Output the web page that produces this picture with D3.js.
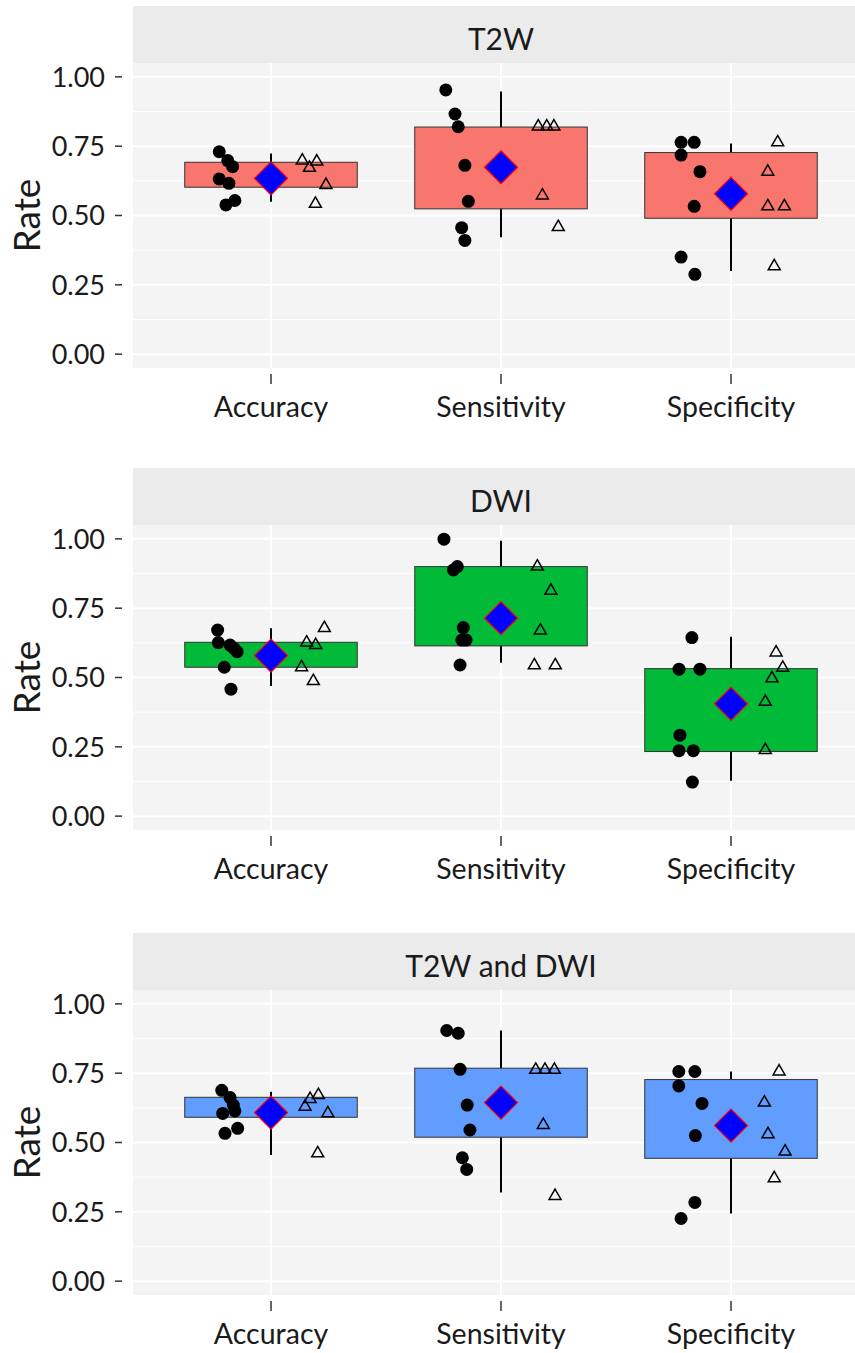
<!DOCTYPE html>
<html>
<head>
<meta charset="utf-8">
<script src="https://cdn.jsdelivr.net/npm/d3@7"></script>
<style>
  body { margin: 0; background: #fff; }
  text { font-family: Lato, "Noto Sans", sans-serif; fill: #1a1a1a; }
</style>
</head>
<body>
<div id="chart"></div>
<script>
  // categories and facets
  var panels = ["T2W", "DWI", "T2W and DWI"];
  var metrics = ["Accuracy", "Sensitivity", "Specificity"];
  var fills = ["#F8766D", "#00BA38", "#619CFF"];
  var yTicks = [0, 0.25, 0.5, 0.75, 1];
  var yMinor = [0.125, 0.375, 0.625, 0.875];

  // box / whisker / mean per panel (Accuracy, Sensitivity, Specificity)
  var boxLow = [[0.602, 0.524, 0.490], [0.537, 0.614, 0.233], [0.591, 0.519, 0.443]];
  var boxHigh = [[0.692, 0.819, 0.727], [0.627, 0.900, 0.532], [0.663, 0.768, 0.727]];
  var whiskLow = [[0.550, 0.422, 0.300], [0.469, 0.553, 0.128], [0.455, 0.320, 0.244]];
  var whiskHigh = [[0.724, 0.947, 0.760], [0.678, 0.993, 0.647], [0.683, 0.904, 0.756]];
  var means = [[0.634, 0.674, 0.578], [0.579, 0.714, 0.405], [0.608, 0.644, 0.561]];

  // filled circles: values and horizontal jitter (category units)
  var circleVals = [
    [[0.730, 0.698, 0.676, 0.632, 0.616, 0.554, 0.538],
     [0.953, 0.866, 0.820, 0.681, 0.551, 0.456, 0.410],
     [0.764, 0.764, 0.718, 0.658, 0.533, 0.350, 0.288]],
    [[0.671, 0.626, 0.617, 0.605, 0.593, 0.537, 0.458],
     [0.999, 0.888, 0.900, 0.680, 0.635, 0.635, 0.545],
     [0.644, 0.530, 0.530, 0.292, 0.236, 0.236, 0.123]],
    [[0.688, 0.662, 0.635, 0.614, 0.605, 0.551, 0.533],
     [0.904, 0.894, 0.764, 0.635, 0.545, 0.445, 0.403],
     [0.756, 0.756, 0.704, 0.641, 0.525, 0.284, 0.226]]
  ];
  var circleJit = [
    [[-0.225, -0.188, -0.167, -0.225, -0.183, -0.157, -0.196],
     [-0.240, -0.200, -0.186, -0.157, -0.142, -0.171, -0.157],
     [-0.217, -0.160, -0.217, -0.135, -0.160, -0.217, -0.157]],
    [[-0.232, -0.229, -0.178, -0.161, -0.147, -0.203, -0.174],
     [-0.248, -0.207, -0.190, -0.164, -0.170, -0.152, -0.178],
     [-0.170, -0.226, -0.135, -0.222, -0.226, -0.164, -0.168]],
    [[-0.214, -0.178, -0.164, -0.157, -0.210, -0.145, -0.200],
     [-0.236, -0.186, -0.178, -0.147, -0.135, -0.168, -0.149],
     [-0.227, -0.157, -0.227, -0.126, -0.155, -0.157, -0.217]]
  ];

  // open triangles: values and jitter
  var triVals = [
    [[0.698, 0.672, 0.695, 0.610, 0.542],
     [0.821, 0.821, 0.821, 0.572, 0.458],
     [0.764, 0.658, 0.533, 0.533, 0.317]],
    [[0.678, 0.626, 0.617, 0.537, 0.487],
     [0.900, 0.813, 0.669, 0.544, 0.544],
     [0.590, 0.535, 0.497, 0.412, 0.238]],
    [[0.671, 0.657, 0.629, 0.605, 0.461],
     [0.762, 0.762, 0.762, 0.563, 0.307],
     [0.756, 0.644, 0.530, 0.467, 0.371]]
  ];
  var triJit = [
    [[0.136, 0.167, 0.199, 0.239, 0.193],
     [0.162, 0.199, 0.230, 0.180, 0.249],
     [0.203, 0.160, 0.160, 0.232, 0.188]],
    [[0.232, 0.155, 0.194, 0.133, 0.184],
     [0.158, 0.217, 0.171, 0.145, 0.236],
     [0.196, 0.225, 0.178, 0.149, 0.149]],
    [[0.206, 0.170, 0.148, 0.247, 0.203],
     [0.151, 0.191, 0.232, 0.184, 0.235],
     [0.209, 0.145, 0.161, 0.235, 0.188]]
  ];

  var width = 855, height = 1353;
  var panelLeft = 133;
  var stripTops = [6, 468, 933];
  var stripH = 57;
  var panelH = 305;

  var svg = d3.select("#chart").append("svg")
    .attr("width", width)
    .attr("height", height);

  // x: discrete positions 1..3 with 0.6 expansion each side
  var x = d3.scaleLinear().domain([0.4, 3.6]).range([panelLeft, panelLeft + 736]);

  panels.forEach(function (name, p) {
    var top = stripTops[p] + stripH;
    var y = d3.scaleLinear().domain([-0.05, 1.05]).range([top + panelH, top]);
    var g = svg.append("g");

    // strip
    g.append("rect")
      .attr("x", panelLeft).attr("y", stripTops[p])
      .attr("width", width - panelLeft).attr("height", stripH)
      .attr("fill", "#EBEBEB");
    g.append("text")
      .attr("x", x(2)).attr("y", stripTops[p] + 44)
      .attr("text-anchor", "middle")
      .style("font-size", "30px")
      .text(name);

    // panel background
    g.append("rect")
      .attr("x", panelLeft).attr("y", top)
      .attr("width", width - panelLeft).attr("height", panelH)
      .attr("fill", "#F4F4F4");

    g.selectAll(".minor").data(yMinor).enter().append("line")
      .attr("x1", panelLeft).attr("x2", width)
      .attr("y1", d => y(d)).attr("y2", d => y(d))
      .attr("stroke", "#fff").attr("stroke-width", 1);
    g.selectAll(".major").data(yTicks).enter().append("line")
      .attr("x1", panelLeft).attr("x2", width)
      .attr("y1", d => y(d)).attr("y2", d => y(d))
      .attr("stroke", "#fff").attr("stroke-width", 2);
    g.selectAll(".vmajor").data(metrics).enter().append("line")
      .attr("x1", (d, i) => x(i + 1)).attr("x2", (d, i) => x(i + 1))
      .attr("y1", top).attr("y2", top + panelH)
      .attr("stroke", "#fff").attr("stroke-width", 2);

    // y axis ticks + labels
    g.selectAll(".ytick").data(yTicks).enter().append("line")
      .attr("x1", 115).attr("x2", 122)
      .attr("y1", d => y(d)).attr("y2", d => y(d))
      .attr("stroke", "#333").attr("stroke-width", 1.5);
    g.selectAll(".ylab").data(yTicks).enter().append("text")
      .attr("x", 105).attr("y", d => y(d))
      .attr("dy", "0.36em")
      .attr("text-anchor", "end")
      .style("font-size", "27px")
      .text(d => d3.format(".2f")(d));

    // x axis ticks + labels
    g.selectAll(".xtick").data(metrics).enter().append("line")
      .attr("x1", (d, i) => x(i + 1)).attr("x2", (d, i) => x(i + 1))
      .attr("y1", top + panelH + 6).attr("y2", top + panelH + 16)
      .attr("stroke", "#333").attr("stroke-width", 1.5);
    g.selectAll(".xlab").data(metrics).enter().append("text")
      .attr("x", (d, i) => x(i + 1)).attr("y", top + panelH + 49)
      .attr("text-anchor", "middle")
      .style("font-size", "28.5px")
      .text(d => d);

    // y title
    g.append("text")
      .attr("transform", "translate(40," + (top + panelH / 2) + ") rotate(-90)")
      .attr("text-anchor", "middle")
      .style("font-size", "37px")
      .text("Rate");

    // whiskers
    g.selectAll(".whisk").data(metrics).enter().append("line")
      .attr("x1", (d, i) => x(i + 1)).attr("x2", (d, i) => x(i + 1))
      .attr("y1", (d, i) => y(whiskLow[p][i])).attr("y2", (d, i) => y(whiskHigh[p][i]))
      .attr("stroke", "#000").attr("stroke-width", 2);

    // boxes
    g.selectAll(".box").data(metrics).enter().append("rect")
      .attr("x", (d, i) => x(i + 1 - 0.375))
      .attr("width", x(1.375) - x(0.625))
      .attr("y", (d, i) => y(boxHigh[p][i]))
      .attr("height", (d, i) => y(boxLow[p][i]) - y(boxHigh[p][i]))
      .attr("fill", fills[p])
      .attr("stroke", "#333").attr("stroke-width", 1);

    metrics.forEach(function (m, i) {
      // circles
      g.selectAll(".c" + i).data(circleVals[p][i]).enter().append("circle")
        .attr("cx", (d, k) => x(i + 1 + circleJit[p][i][k]))
        .attr("cy", d => y(d))
        .attr("r", 6.5)
        .attr("fill", "#000");

      // triangles
      var tri = d3.symbol().type(d3.symbolTriangle).size(62);
      g.selectAll(".t" + i).data(triVals[p][i]).enter().append("path")
        .attr("d", tri)
        .attr("transform", (d, k) => "translate(" + x(i + 1 + triJit[p][i][k]) + "," + y(d) + ")")
        .attr("fill", "none")
        .attr("stroke", "#000").attr("stroke-width", 1.5);

      // mean diamond
      var cx = x(i + 1), cy = y(means[p][i]), r = 16.5;
      g.append("path")
        .attr("d", "M" + cx + "," + (cy - r) + "L" + (cx + r) + "," + cy + "L" + cx + "," + (cy + r) + "L" + (cx - r) + "," + cy + "Z")
        .attr("fill", "#0000FF")
        .attr("stroke", "#FF0000").attr("stroke-width", 1.2);
    });
  });
</script>
</body>
</html>
